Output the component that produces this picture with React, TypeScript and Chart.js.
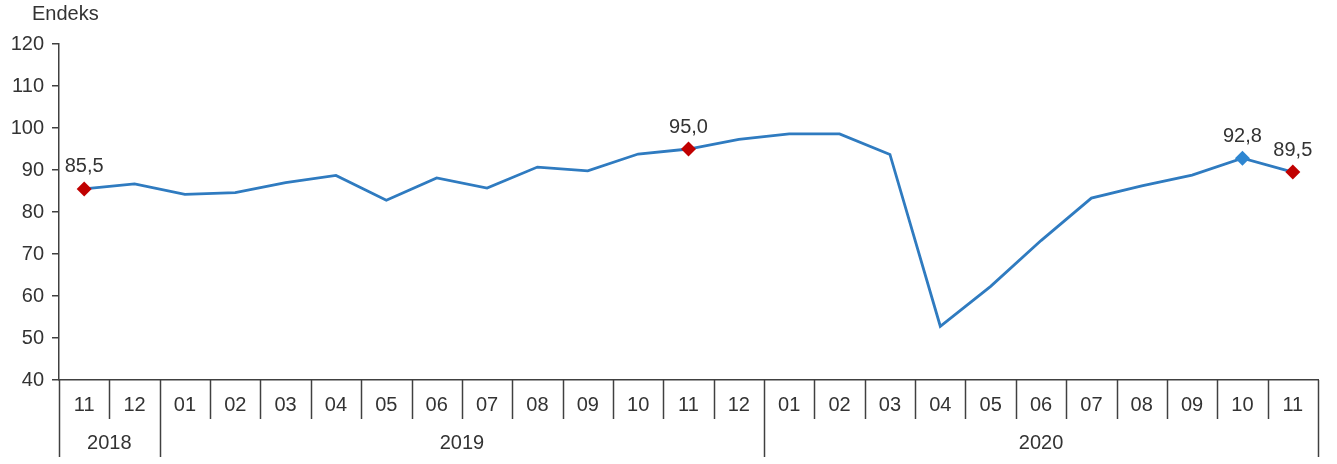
import React, { useEffect, useRef } from 'react';
import { Chart, registerables } from 'chart.js';

Chart.register(...registerables);

const months = ['11', '12', '01', '02', '03', '04', '05', '06', '07', '08', '09', '10', '11', '12', '01', '02', '03', '04', '05', '06', '07', '08', '09', '10', '11'];
const values = [85.5, 86.7, 84.2, 84.6, 87.0, 88.7, 82.8, 88.1, 85.7, 90.7, 89.8, 93.8, 95.0, 97.3, 98.6, 98.6, 93.7, 52.8, 62.3, 73.2, 83.3, 86.2, 88.8, 92.8, 89.5];
const years = ['2018', '2019', '2020'];
const yearSpans = [2, 12, 11];
const labelledPoints = [0, 12, 23, 24];
const bluePoints = [23];
const yMin = 40;
const yMax = 120;
const yStep = 10;
const axisTitle = 'Endeks';

const FONT = '"Liberation Sans", Arial, sans-serif';
const TEXT = '#333333';
const AXIS = '#404040';
const LINE = '#2F7BC0';
const RED = '#C00000';
const BLUE = '#2E86D1';

const overlay = {
  id: 'overlay',
  afterDraw(chart: any) {
    const ctx = chart.ctx;
    const xs = chart.scales.x;
    const ys = chart.scales.y;
    const base = ys.bottom;
    ctx.save();
    ctx.strokeStyle = AXIS;
    ctx.lineWidth = 1.5;
    const yearEdges: number[] = [0];
    yearSpans.forEach((s) => yearEdges.push(yearEdges[yearEdges.length - 1] + s));
    for (let k = 0; k <= months.length; k++) {
      const px = Math.round(xs.getPixelForValue(k - 0.5)) + 0.5;
      const isYear = yearEdges.includes(k);
      ctx.beginPath();
      ctx.moveTo(px, base);
      ctx.lineTo(px, base + (isYear ? 77 : 39));
      ctx.stroke();
    }
    ctx.fillStyle = TEXT;
    ctx.font = `20px ${FONT}`;
    ctx.textAlign = 'center';
    ctx.textBaseline = 'middle';
    years.forEach((yr, i) => {
      const a = xs.getPixelForValue(yearEdges[i] - 0.5);
      const b = xs.getPixelForValue(yearEdges[i + 1] - 0.5);
      ctx.fillText(yr, (a + b) / 2, base + 63);
    });
    const meta = chart.getDatasetMeta(0);
    labelledPoints.forEach((i) => {
      const pt = meta.data[i];
      ctx.fillText(values[i].toFixed(1).replace('.', ','), pt.x, pt.y - 22);
    });
    ctx.textAlign = 'left';
    ctx.fillText(axisTitle, 32, 14);
    ctx.restore();
  },
};

export default function App() {
  const ref = useRef<HTMLCanvasElement | null>(null);
  useEffect(() => {
    if (!ref.current) return;
    const chart = new Chart(ref.current, {
      type: 'line',
      data: {
        labels: months,
        datasets: [
          {
            data: values,
            borderColor: LINE,
            borderWidth: 2.8,
            tension: 0,
            pointStyle: 'rectRot',
            pointRadius: values.map((_, i) => (labelledPoints.includes(i) ? 7.5 : 0)),
            pointHoverRadius: values.map((_, i) => (labelledPoints.includes(i) ? 7.5 : 0)),
            pointBackgroundColor: values.map((_, i) => (bluePoints.includes(i) ? BLUE : RED)),
            pointBorderColor: values.map((_, i) => (bluePoints.includes(i) ? BLUE : RED)),
            pointBorderWidth: 0,
          },
        ],
      },
      options: {
        responsive: true,
        maintainAspectRatio: false,
        animation: false,
        layout: { padding: { top: 44, right: 19, bottom: 0, left: 0 } },
        plugins: { legend: { display: false }, tooltip: { enabled: false }, title: { display: false } },
        scales: {
          x: {
            type: 'category',
            offset: true,
            grid: { display: false, drawTicks: false },
            border: { display: true, color: AXIS, width: 1.5 },
            ticks: { color: TEXT, font: { family: FONT, size: 20 }, padding: 13, maxRotation: 0, autoSkip: false },
            afterFit: (s: any) => { s.height = 84; },
          },
          y: {
            min: yMin,
            max: yMax,
            grid: { display: true, drawOnChartArea: false, drawTicks: true, tickLength: 7, color: AXIS, lineWidth: 1.5 },
            border: { display: true, color: AXIS, width: 1.5 },
            ticks: { stepSize: yStep, color: TEXT, font: { family: FONT, size: 20 }, padding: 8 },
            afterFit: (s: any) => { s.width = 59; },
          },
        },
      },
      plugins: [overlay],
    });
    return () => chart.destroy();
  }, []);
  return (
    <div style={{ position: 'fixed', left: 0, top: 0, width: 1337, height: 464, background: '#fff' }}>
      <canvas ref={ref} />
    </div>
  );
}
